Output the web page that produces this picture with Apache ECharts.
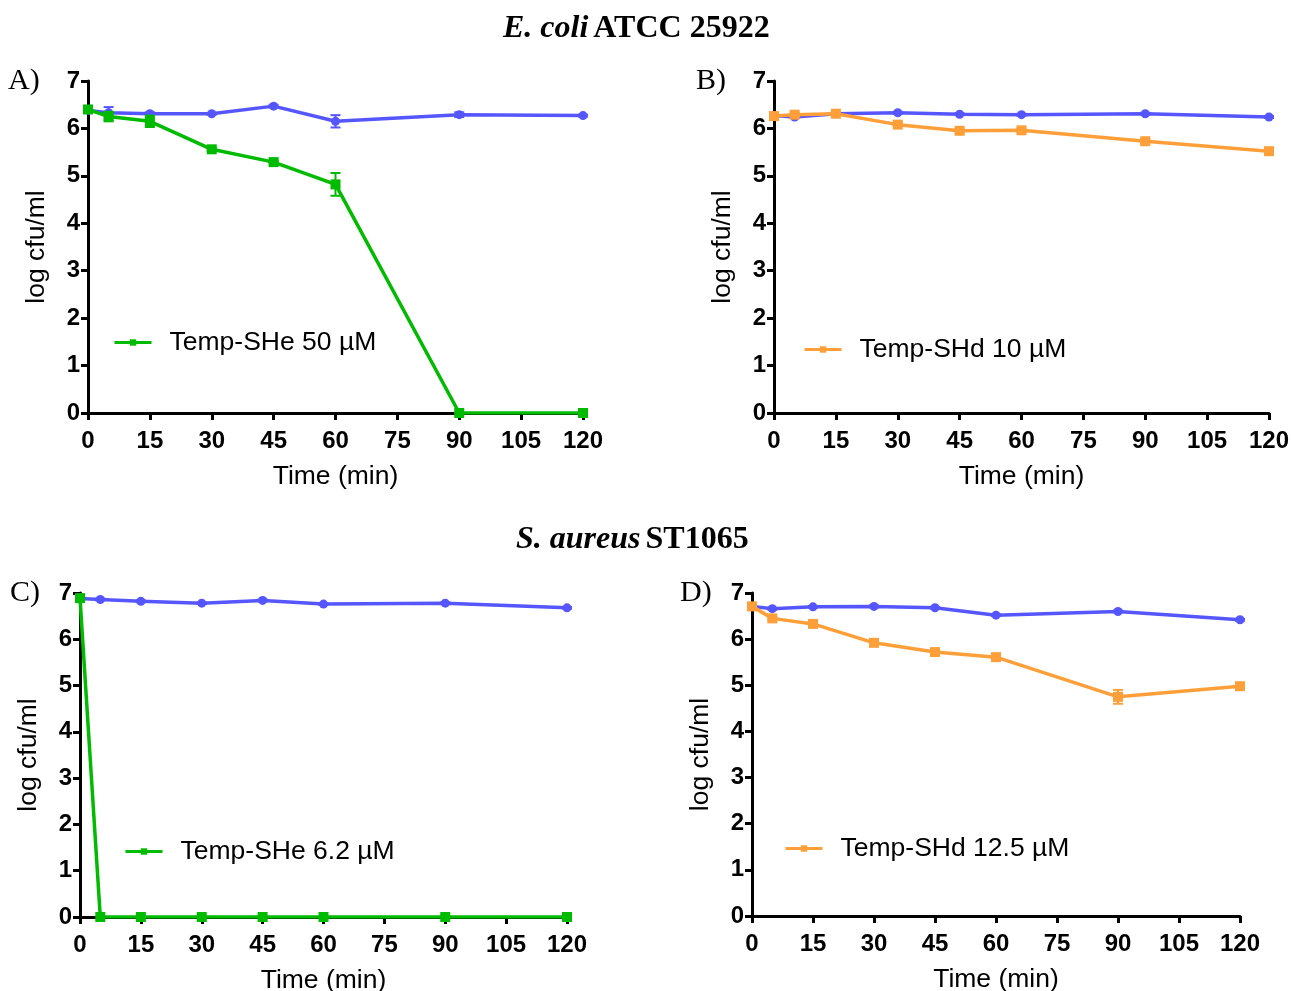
<!DOCTYPE html>
<html><head><meta charset="utf-8">
<script src="https://cdn.jsdelivr.net/npm/echarts@6/dist/echarts.min.js"></script>
<style>html,body{margin:0;padding:0;background:#fff}#c{width:1291px;height:991px}</style>
</head><body><div id="c"></div>
<script>
const times = [0, 5, 15, 30, 45, 60, 90, 120];
const xTicks = [0, 15, 30, 45, 60, 75, 90, 105, 120];
const yTicks = [0, 1, 2, 3, 4, 5, 6, 7];

// Panel A: E. coli, Temp-SHe 50 µM
const aControl = [6.38, 6.33, 6.31, 6.31, 6.47, 6.15, 6.29, 6.27];
const aControlErr = [0.03, 0.12, 0.03, 0.02, 0.03, 0.13, 0.05, 0.02];
const aTreat = [6.40, 6.25, 6.15, 5.56, 5.29, 4.82, 0, 0];
const aTreatErr = [0.05, 0.10, 0.12, 0.03, 0.03, 0.24, 0, 0];
// Panel B: E. coli, Temp-SHd 10 µM
const bControl = [6.27, 6.24, 6.31, 6.33, 6.30, 6.29, 6.31, 6.24];
const bControlErr = [0.02, 0.02, 0.02, 0.02, 0.02, 0.02, 0.02, 0.02];
const bTreat = [6.26, 6.29, 6.31, 6.08, 5.95, 5.96, 5.73, 5.52];
const bTreatErr = [0.03, 0.03, 0.03, 0.03, 0.04, 0.04, 0.05, 0.03];
// Panel C: S. aureus, Temp-SHe 6.2 µM
const cControl = [6.88, 6.86, 6.82, 6.78, 6.84, 6.76, 6.78, 6.68];
const cControlErr = [0.02, 0.02, 0.02, 0.02, 0.02, 0.02, 0.02, 0.02];
const cTreat = [6.89, 0, 0, 0, 0, 0, 0, 0];
const cTreatErr = [0.02, 0, 0, 0, 0, 0, 0, 0];
// Panel D: S. aureus, Temp-SHd 12.5 µM
const dControl = [6.71, 6.66, 6.70, 6.71, 6.68, 6.52, 6.60, 6.42];
const dControlErr = [0.02, 0.02, 0.02, 0.02, 0.02, 0.02, 0.02, 0.02];
const dTreat = [6.71, 6.45, 6.33, 5.92, 5.72, 5.61, 4.75, 4.98];
const dTreatErr = [0.02, 0.03, 0.03, 0.03, 0.06, 0.03, 0.15, 0.07];

const legendNames = ['Temp-SHe 50 µM', 'Temp-SHd 10 µM', 'Temp-SHe 6.2 µM', 'Temp-SHd 12.5 µM'];
const titles = ['E. coli|ATCC 25922', 'S. aureus|ST1065'];
const panelLabels = ['A)', 'B)', 'C)', 'D)'];

const BLUE = '#5656FF', GREEN = '#00BB00', ORANGE = '#FF9F3A';
const SANS = 'Liberation Sans, Arial, sans-serif';
const SERIF = 'Liberation Serif, Times New Roman, serif';

const panels = [
  {grid: {left: 88, top: 81, width: 495, height: 332}, ctrl: aControl, ctrlErr: aControlErr, tr: aTreat, trErr: aTreatErr, color: GREEN, name: legendNames[0], legend: {left: 113, top: 329}, label: {x: 8, y: 66}},
  {grid: {left: 774, top: 81, width: 495, height: 332}, ctrl: bControl, ctrlErr: bControlErr, tr: bTreat, trErr: bTreatErr, color: ORANGE, name: legendNames[1], legend: {left: 803, top: 336}, label: {x: 696, y: 66}},
  {grid: {left: 80, top: 593, width: 487, height: 324}, ctrl: cControl, ctrlErr: cControlErr, tr: cTreat, trErr: cTreatErr, color: GREEN, name: legendNames[2], legend: {left: 124, top: 838}, label: {x: 10, y: 578}},
  {grid: {left: 752, top: 593, width: 488, height: 323}, ctrl: dControl, ctrlErr: dControlErr, tr: dTreat, trErr: dTreatErr, color: ORANGE, name: legendNames[3], legend: {left: 784, top: 835}, label: {x: 680, y: 578}}
];

function errSeries(vals, errs, color, idx) {
  return {
    type: 'custom', xAxisIndex: idx, yAxisIndex: idx, z: 3, silent: true,
    data: times.map((t, i) => [t, vals[i], errs[i]]),
    renderItem: function (params, api) {
      const x = api.value(0), y = api.value(1), e = api.value(2);
      if (!(e > 0)) return null;
      const hi = api.coord([x, y + e]), lo = api.coord([x, y - e]);
      const w = 5;
      const st = {stroke: color, lineWidth: 2};
      return {type: 'group', children: [
        {type: 'line', shape: {x1: hi[0], y1: hi[1], x2: lo[0], y2: lo[1]}, style: st},
        {type: 'line', shape: {x1: hi[0] - w, y1: hi[1], x2: hi[0] + w, y2: hi[1]}, style: st},
        {type: 'line', shape: {x1: lo[0] - w, y1: lo[1], x2: lo[0] + w, y2: lo[1]}, style: st}
      ]};
    }
  };
}

const grid = [], xAxis = [], yAxis = [], series = [], legend = [], graphic = [];
panels.forEach((p, idx) => {
  grid.push(Object.assign({outerBoundsMode: 'none', containLabel: false}, p.grid));
  const axisLine = {show: true, onZero: false, lineStyle: {color: '#000', width: 3}};
  const axisTick = {show: true, inside: false, length: 7, lineStyle: {color: '#000', width: 3}};
  const axisLabel = {color: '#000', fontSize: 24, fontWeight: 'bold', fontFamily: SANS};
  xAxis.push({type: 'value', gridIndex: idx, min: 0, max: 120, interval: 15,
    axisLine, axisTick, splitLine: {show: false},
    axisLabel: Object.assign({margin: 16}, axisLabel),
    name: 'Time (min)', nameLocation: 'middle', nameGap: 50,
    nameTextStyle: {color: '#000', fontSize: 26.5, fontFamily: SANS}});
  yAxis.push({type: 'value', gridIndex: idx, min: 0, max: 7, interval: 1,
    axisLine, axisTick, splitLine: {show: false},
    axisLabel: Object.assign({margin: 8}, axisLabel),
    name: 'log cfu/ml', nameLocation: 'middle', nameRotate: 90, nameGap: 38,
    nameTextStyle: {color: '#000', fontSize: 26.5, fontFamily: SANS}});
  series.push({type: 'line', name: 'control ' + idx, xAxisIndex: idx, yAxisIndex: idx,
    data: times.map((t, i) => [t, p.ctrl[i]]), symbol: 'circle', symbolSize: 9,
    lineStyle: {color: BLUE, width: 3.5}, itemStyle: {color: BLUE}, z: 2});
  series.push(errSeries(p.ctrl, p.ctrlErr, BLUE, idx));
  series.push({type: 'line', name: p.name, xAxisIndex: idx, yAxisIndex: idx,
    data: times.map((t, i) => [t, p.tr[i]]), symbol: 'rect', symbolSize: 10,
    lineStyle: {color: p.color, width: 3.5}, itemStyle: {color: p.color}, z: 4});
  series.push(errSeries(p.tr, p.trErr, p.color, idx));
  legend.push({data: [p.name], left: p.legend.left, top: p.legend.top, itemWidth: 37, itemHeight: 8,
    lineStyle: {width: 3}, padding: 0,
    textStyle: {fontSize: 26.5, fontFamily: SANS, color: '#000', padding: [0, 0, 0, 13]}, selectedMode: false});
  graphic.push({type: 'text', left: p.label.x, top: p.label.y,
    style: {text: panelLabels[idx], font: '30px ' + SERIF, fill: '#000'}});
});

const rich = {
  i: {fontStyle: 'italic', fontWeight: 'bold', fontSize: 32, fontFamily: SERIF, color: '#000'},
  b: {fontWeight: 'bold', fontSize: 32, fontFamily: SERIF, color: '#000'}
};
const title = titles.map((t, k) => {
  const parts = t.split('|');
  return {text: '{i|' + parts[0] + '} {b|' + parts[1] + '}', left: k === 0 ? 498 : 511, top: k === 0 ? 8 : 519,
    textStyle: {rich: rich}};
});

const chart = echarts.init(document.getElementById('c'), null, {renderer: 'canvas'});
chart.setOption({animation: false, backgroundColor: '#fff', title, grid, xAxis, yAxis, series, legend, graphic});
</script></body></html>
